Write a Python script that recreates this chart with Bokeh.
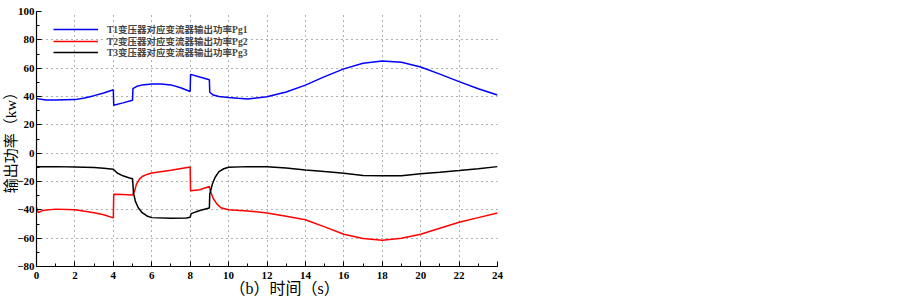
from bokeh.plotting import figure
from bokeh.models import (Range1d, SingleIntervalTicker, Legend, LegendItem, Title)
from bokeh.embed import file_html
from bokeh.resources import INLINE

# ---------------- data ----------------
t_pg1 = [0, 0.5, 1, 2, 2.5, 3, 3.5, 4.0, 4.02, 4.5, 5.0, 5.02, 5.2, 5.5, 6, 6.5, 7, 7.5,
         8.0, 8.02, 8.5, 9.0, 9.02, 9.2, 9.5, 10, 10.5, 11, 12, 13, 14, 15, 16, 17, 18,
         19, 20, 21, 22, 23, 24]
pg1 = [38.5, 37.5, 37.5, 37.8, 39, 40.6, 42.5, 44.8, 33.8, 35.5, 37.3, 45.5, 47, 48.2,
       48.8, 48.8, 48.2, 46.2, 43.5, 55.6, 53.7, 51.8, 43, 41, 40, 39.3, 38.7, 38.3,
       39.8, 43.2, 48, 54, 59.5, 63.5, 65, 64.2, 60.8, 55.8, 50.5, 45.5, 41]

t_pg2 = [0, 0.1, 0.3, 1, 2, 3, 3.5, 4.0, 4.02, 4.5, 5.0, 5.1, 5.2, 5.35, 5.5, 5.75, 6, 7,
         8.0, 8.02, 8.5, 9.0, 9.05, 9.2, 9.4, 9.6, 10, 11, 12, 13, 14, 15, 16, 17, 18,
         19, 20, 21, 22, 23, 24]
pg2 = [-38.5, -42, -40.5, -39.5, -40, -42, -43.5, -45.7, -29, -29.2, -29.5, -27, -22,
       -18.5, -16.5, -15, -14, -12, -9.7, -26.5, -25.8, -23.5, -26.5, -32, -36, -38.5,
       -40, -40.8, -42.2, -44.5, -47, -52, -57.2, -60.3, -61.4, -60, -57.2, -53, -48.8,
       -45.5, -42.2]

t_pg3 = [0, 1, 2, 3, 3.5, 4.0, 4.2, 4.5, 4.8, 5.0, 5.05, 5.15, 5.3, 5.5, 5.75, 6, 7, 7.8,
         8.0, 8.05, 8.5, 9.0, 9.02, 9.15, 9.3, 9.5, 9.75, 10, 11, 12, 13, 14, 15, 16, 17,
         18, 19, 20, 21, 22, 23, 24]
pg3 = [-9.5, -9.5, -9.8, -10.2, -10.6, -11.3, -14, -16, -17.3, -18, -28, -34, -38.5, -42,
       -44.3, -45.5, -46, -45.7, -45.2, -42.7, -40.5, -38.7, -29, -22, -17, -13, -11, -10,
       -9.5, -9.6, -10.5, -11.8, -13, -14.1, -15.8, -16, -16, -14.6, -13.5, -12.3, -11,
       -9.5]

series_names = ["T1变压器对应变流器输出功率Pg1",
                "T2变压器对应变流器输出功率Pg2",
                "T3变压器对应变流器输出功率Pg3"]
series_colors = ["#0000ff", "#ff0000", "#000000"]

x_title = "（b）时间（s）"
y_title = "输出功率（kw）"

FONT = "Liberation Serif, Noto Sans CJK SC"

# ---------------- figure ----------------
p = figure(width=860, height=301, output_backend="svg", toolbar_location=None,
           x_range=Range1d(0, 24), y_range=Range1d(-80, 100),
           min_border_left=36, min_border_right=363, min_border_top=11,
           min_border_bottom=35)
p.outline_line_color = None
p.background_fill_color = "white"
p.border_fill_color = "white"

xt = SingleIntervalTicker(interval=2, num_minor_ticks=2)
yt = SingleIntervalTicker(interval=20, num_minor_ticks=2)
p.xaxis.ticker = xt
p.yaxis.ticker = yt
p.xgrid.ticker = xt
p.ygrid.ticker = yt

for ax in (p.xaxis[0], p.yaxis[0]):
    ax.axis_line_color = "black"
    ax.axis_line_width = 1.2
    ax.major_tick_in = 5
    ax.major_tick_out = 0
    ax.minor_tick_in = 3
    ax.minor_tick_out = 0
    ax.major_tick_line_color = "black"
    ax.minor_tick_line_color = "black"
    ax.major_label_text_font = "Liberation Serif"
    ax.major_label_text_font_style = "bold"
    ax.major_label_text_font_size = "11px"
    ax.major_label_text_color = "black"
p.xaxis.major_label_standoff = 5
p.yaxis.major_label_standoff = 2

p.yaxis.axis_label = y_title
p.yaxis.axis_label_text_font = FONT
p.yaxis.axis_label_text_font_style = "normal"
p.yaxis.axis_label_text_font_size = "15px"
p.yaxis.axis_label_text_color = "black"
p.yaxis.axis_label_standoff = -5

for g in (p.xgrid[0], p.ygrid[0]):
    g.grid_line_color = "#606060"
    g.grid_line_dash = "1 4"
    g.grid_line_width = 1

renderers = []
for tt, vv, col in zip([t_pg1, t_pg2, t_pg3], [pg1, pg2, pg3], series_colors):
    r = p.line(tt, vv, line_color=col, line_width=1.5)
    renderers.append(r)

# one legend box per row, so the rows keep the reference's tight spacing
legend_rows_y = [230, 218, 207]
for name, r, ly in zip(series_names, renderers, legend_rows_y):
    lg = Legend(items=[LegendItem(label=name, renderers=[r])],
                location=(17, ly), padding=0, margin=0, spacing=0,
                glyph_width=45, glyph_height=12, label_height=12, label_standoff=9,
                border_line_color=None, background_fill_alpha=0,
                label_text_font=FONT, label_text_font_size="9.5px",
                label_text_font_style="bold")
    p.add_layout(lg)

p.add_layout(Title(text=x_title, align="left", offset=193, standoff=-7,
                   text_font=FONT, text_font_size="16px",
                   text_font_style="normal", text_color="black"), "below")

open("out.html", "w").write(file_html(p, INLINE))
